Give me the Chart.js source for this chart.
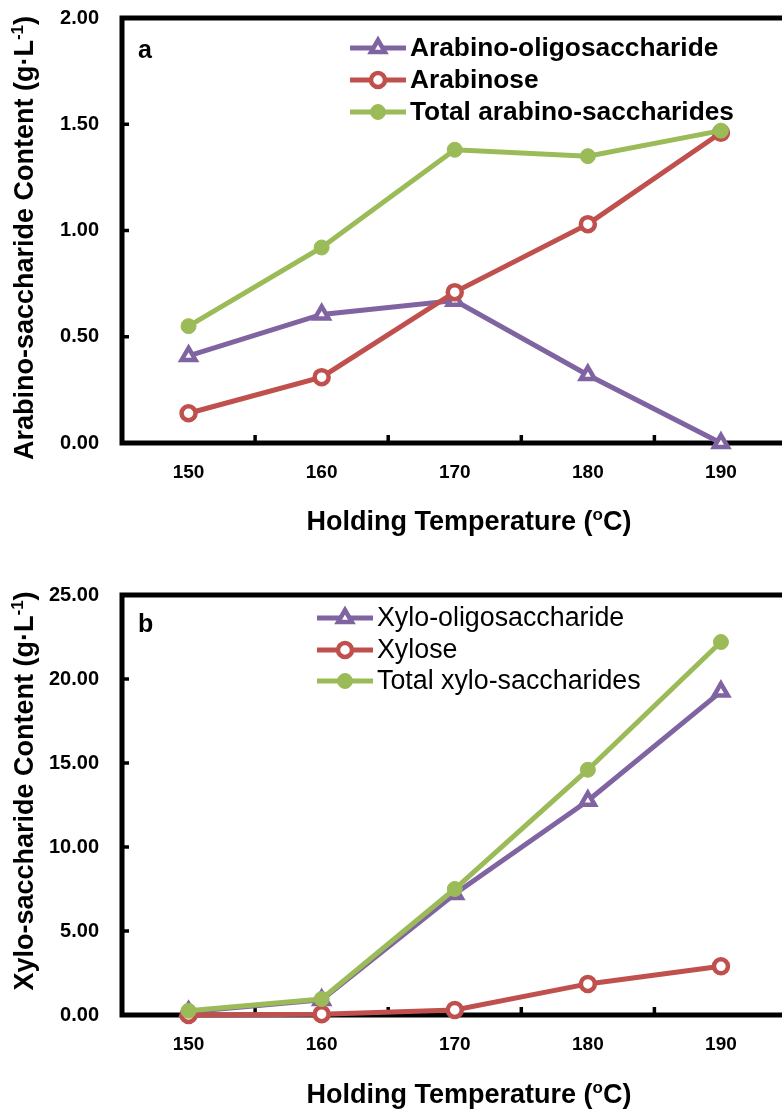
<!DOCTYPE html>
<html>
<head>
<meta charset="utf-8">
<script src="https://cdn.jsdelivr.net/npm/chart.js@4.4.1/dist/chart.umd.min.js"></script>
<style>
  html, body { margin: 0; padding: 0; background: #fff; overflow: hidden; }
  body { width: 782px; height: 1109px; position: relative; }
  canvas { position: absolute; left: 0; }
  #chartA { top: 0; }
  #chartB { top: 555px; }
</style>
</head>
<body>
<canvas id="chartA" width="800" height="555"></canvas>
<canvas id="chartB" width="800" height="554"></canvas>
<script>
// Data
const temperatures = ['150', '160', '170', '180', '190'];

const arabinoOligo = [0.41, 0.605, 0.67, 0.32, 0.0];
const arabinose = [0.14, 0.31, 0.71, 1.03, 1.46];
const arabinoTotal = [0.55, 0.92, 1.38, 1.35, 1.47];

const xyloOligo = [0.2, 0.9, 7.2, 12.75, 19.25];
const xylose = [0.0, 0.05, 0.3, 1.85, 2.9];
const xyloTotal = [0.25, 0.95, 7.5, 14.6, 22.2];

const PURPLE = '#8064A2';
const RED = '#C0504D';
const GREEN = '#9BBB59';
const FONT = '"Liberation Sans", Arial, sans-serif';

function oligoSet(label, data) {
    return {
        label: label, data: data, borderColor: PURPLE, backgroundColor: '#fff',
        borderWidth: 5, pointStyle: 'triangle', pointRadius: 8,
        pointBorderWidth: 4.5, pointBackgroundColor: '#fff', pointBorderColor: PURPLE,
        order: 3, clip: false
    };
}
function monoSet(label, data) {
    return {
        label: label, data: data, borderColor: RED, backgroundColor: '#fff',
        borderWidth: 5, pointStyle: 'circle', pointRadius: 7,
        pointBorderWidth: 4.5, pointBackgroundColor: '#fff', pointBorderColor: RED,
        order: 2, clip: false
    };
}
function totalSet(label, data) {
    return {
        label: label, data: data, borderColor: GREEN, backgroundColor: GREEN,
        borderWidth: 5, pointStyle: 'circle', pointRadius: 7.5,
        pointBorderWidth: 1, pointBackgroundColor: GREEN, pointBorderColor: GREEN,
        order: 1, clip: false
    };
}

// draws text pieces, superscripts raised and smaller
function drawRich(ctx, parts, x, y, size, weight, align) {
    const widths = parts.map(p => {
        ctx.font = `${weight} ${p.sup ? Math.round(size * 0.62) : size}px ${FONT}`;
        return ctx.measureText(p.t).width;
    });
    const total = widths.reduce((a, b) => a + b, 0);
    let cx = align === 'center' ? x - total / 2 : x;
    ctx.textAlign = 'left';
    ctx.textBaseline = 'alphabetic';
    parts.forEach((p, i) => {
        ctx.font = `${weight} ${p.sup ? Math.round(size * 0.62) : size}px ${FONT}`;
        ctx.fillText(p.t, cx, p.sup ? y - size * 0.38 : y);
        cx += widths[i];
    });
}

function makeChart(id, opts) {
    const canvas = document.getElementById(id);
    const h = canvas.height;

    const decorPlugin = {
        id: 'decor',
        beforeDatasetsDraw(chart) {
            const { ctx, chartArea: a, scales } = chart;
            ctx.save();
            ctx.strokeStyle = '#000';
            ctx.lineWidth = 5;
            ctx.lineCap = 'square';
            ctx.beginPath();
            ctx.moveTo(a.right, a.top);
            ctx.lineTo(a.left, a.top);
            ctx.lineTo(a.left, a.bottom);
            ctx.lineTo(a.right, a.bottom);
            ctx.stroke();
            // inner tick marks
            ctx.lineWidth = 3.5;
            ctx.lineCap = 'butt';
            scales.y.ticks.forEach((t, i) => {
                if (i === 0 || i === scales.y.ticks.length - 1) return;
                const y = scales.y.getPixelForTick(i);
                ctx.beginPath();
                ctx.moveTo(a.left, y);
                ctx.lineTo(a.left + 7, y);
                ctx.stroke();
            });
            for (let i = 0; i < temperatures.length - 1; i++) {
                const x = (scales.x.getPixelForTick(i) + scales.x.getPixelForTick(i + 1)) / 2;
                ctx.beginPath();
                ctx.moveTo(x, a.bottom);
                ctx.lineTo(x, a.bottom - 8);
                ctx.stroke();
            }
            ctx.restore();
        },
        afterDraw(chart) {
            const { ctx } = chart;
            ctx.save();
            ctx.fillStyle = '#000';
            // panel letter
            ctx.font = `bold 25px ${FONT}`;
            ctx.textAlign = 'left';
            ctx.textBaseline = 'alphabetic';
            ctx.fillText(opts.letter, 138, opts.letterY);
            // y axis title
            ctx.save();
            ctx.translate(33, opts.yTitleCenter);
            ctx.rotate(-Math.PI / 2);
            drawRich(ctx, [{ t: opts.yTitle + ' (g\u00B7L' }, { t: '-1', sup: true }, { t: ')' }], 0, 0, 27, 'bold', 'center');
            ctx.restore();
            // x axis title
            drawRich(ctx, [{ t: 'Holding Temperature (' }, { t: 'o', sup: true }, { t: 'C)' }], 469, opts.xTitleY, 27, 'bold', 'center');
            // legend
            const sets = chart.data.datasets;
            const lg = opts.legend;
            sets.forEach((ds, i) => {
                const y = lg.rows[i];
                const cx = (lg.x0 + lg.x1) / 2;
                ctx.strokeStyle = ds.borderColor;
                ctx.lineWidth = ds.borderWidth;
                ctx.beginPath();
                ctx.moveTo(lg.x0, y);
                ctx.lineTo(lg.x1, y);
                ctx.stroke();
                ctx.fillStyle = ds.pointBackgroundColor;
                ctx.strokeStyle = ds.pointBorderColor;
                ctx.lineWidth = ds.pointBorderWidth;
                ctx.beginPath();
                if (ds.pointStyle === 'triangle') {
                    const r = ds.pointRadius;
                    const s = r * 3 / Math.sqrt(3);
                    const hh = s * Math.sqrt(3) / 2;
                    ctx.moveTo(cx - s / 2, y + hh / 3);
                    ctx.lineTo(cx + s / 2, y + hh / 3);
                    ctx.lineTo(cx, y - 2 * hh / 3);
                    ctx.closePath();
                } else {
                    ctx.arc(cx, y, ds.pointRadius, 0, Math.PI * 2);
                }
                ctx.fill();
                ctx.stroke();
                ctx.fillStyle = '#000';
                ctx.font = `${lg.weight} ${lg.size}px ${FONT}`;
                ctx.textAlign = 'left';
                ctx.textBaseline = 'middle';
                ctx.fillText(ds.label, lg.textX, y + 1);
            });
            ctx.restore();
        }
    };

    return new Chart(canvas.getContext('2d'), {
        type: 'line',
        data: { labels: temperatures, datasets: opts.datasets },
        options: {
            responsive: false,
            animation: false,
            devicePixelRatio: 1,
            layout: { padding: { top: opts.top, right: 8, left: 0, bottom: 0 } },
            plugins: { legend: { display: false }, tooltip: { enabled: false } },
            elements: { line: { tension: 0 } },
            scales: {
                x: {
                    offset: true,
                    grid: { display: false, drawTicks: false },
                    border: { display: false },
                    ticks: { color: '#000', padding: 18, font: { family: FONT, size: 19, weight: 'bold' } },
                    afterFit(scale) {
                        scale.height = h - opts.bottom;
                        scale.paddingLeft = 0;
                        scale.paddingRight = 0;
                    }
                },
                y: {
                    min: 0, max: opts.yMax,
                    grid: { display: false, drawTicks: false },
                    border: { display: false },
                    ticks: {
                        stepSize: opts.yStep, color: '#000', padding: 23,
                        font: { family: FONT, size: 20, weight: 'bold' },
                        callback: v => v.toFixed(2)
                    },
                    afterFit(scale) {
                        scale.width = 122;
                        scale.paddingTop = 0;
                        scale.paddingBottom = 0;
                    }
                }
            }
        },
        plugins: [decorPlugin]
    });
}

makeChart('chartA', {
    datasets: [
        oligoSet('Arabino-oligosaccharide', arabinoOligo),
        monoSet('Arabinose', arabinose),
        totalSet('Total arabino-saccharides', arabinoTotal)
    ],
    top: 18, bottom: 443, yMax: 2, yStep: 0.5,
    letter: 'a', letterY: 58,
    yTitle: 'Arabino-saccharide Content', yTitleCenter: 238,
    xTitleY: 530,
    legend: { x0: 350, x1: 406, textX: 410, rows: [48, 80, 112], weight: 'bold', size: 26.3 }
});

makeChart('chartB', {
    datasets: [
        oligoSet('Xylo-oligosaccharide', xyloOligo),
        monoSet('Xylose', xylose),
        totalSet('Total xylo-saccharides', xyloTotal)
    ],
    top: 40, bottom: 460, yMax: 25, yStep: 5,
    letter: 'b', letterY: 77,
    yTitle: 'Xylo-saccharide Content', yTitleCenter: 236,
    xTitleY: 548,
    legend: { x0: 317, x1: 373, textX: 377, rows: [63, 95, 126], weight: 'normal', size: 26.8 }
});
</script>
</body>
</html>
